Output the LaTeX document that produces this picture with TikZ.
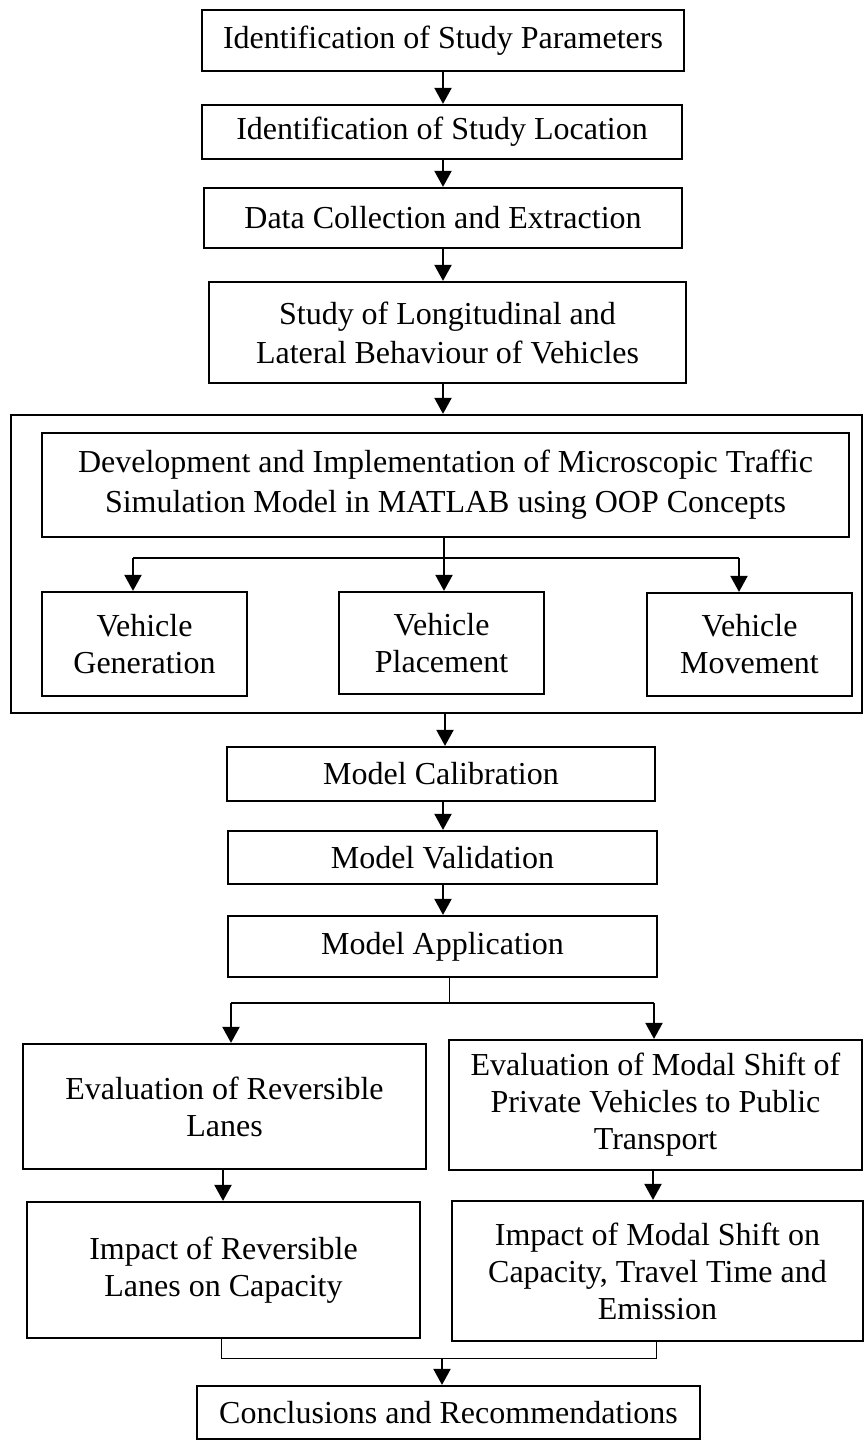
\documentclass[tikz,border=0pt]{standalone}
\usepackage{fontspec}
\setmainfont{Liberation Serif}
\usetikzlibrary{arrows.meta}

\begin{document}
\begin{tikzpicture}[x=1pt,y=-1pt,
  box/.style={draw, line width=2.2pt, inner sep=0pt, align=center,
    font=\fontsize{32}{37}\selectfont},
  arr/.style={line width=2pt, -{Triangle[length=16pt,width=17pt]}},
  link/.style={line width=1.3pt},
  hair/.style={line width=1pt}]

\useasboundingbox (0,0) rectangle (864,1441);

% main chain
\node[box, minimum width=482pt, minimum height=61pt] (b1) at (443,40.5)
  {Identification of Study Parameters};
\node[box, minimum width=480pt, minimum height=54pt] (b2) at (442,132)
  {Identification of Study Location};
\node[box, minimum width=478pt, minimum height=60pt] (b3) at (443,218)
  {Data Collection and Extraction};
\node[box, minimum width=477pt, minimum height=101pt,
  font=\fontsize{32}{39}\selectfont] (b4) at (447.5,332.5)
  {Study of Longitudinal and\\Lateral Behaviour of Vehicles};

% simulation model group
\node[box, minimum width=851pt, minimum height=298pt] (outer) at (436.5,564) {};
\node[box, minimum width=807pt, minimum height=104pt,
  font=\fontsize{32}{40}\selectfont] (inner) at (445.5,485)
  {Development and Implementation of Microscopic Traffic\\Simulation Model in MATLAB using OOP Concepts};
\node[box, minimum width=205pt, minimum height=104pt] (gen) at (144.5,644)
  {Vehicle\\Generation};
\node[box, minimum width=205pt, minimum height=102pt] (plc) at (441.5,643)
  {Vehicle\\Placement};
\node[box, minimum width=205pt, minimum height=103pt] (mov) at (749.5,644.5)
  {Vehicle\\Movement};

% model stages
\node[box, minimum width=428pt, minimum height=54pt] (cal) at (441,774)
  {Model Calibration};
\node[box, minimum width=429pt, minimum height=53pt] (val) at (442.5,857.5)
  {Model Validation};
\node[box, minimum width=429pt, minimum height=61pt] (app) at (442.5,946.5)
  {Model Application};

% applications
\node[box, minimum width=403pt, minimum height=125pt] (evr) at (224.5,1106.5)
  {Evaluation of Reversible\\Lanes};
\node[box, minimum width=413pt, minimum height=130pt] (evm) at (655.5,1105)
  {Evaluation of Modal Shift of\\Private Vehicles to Public\\Transport};
\node[box, minimum width=393pt, minimum height=136pt] (imr) at (223.5,1270)
  {Impact of Reversible\\Lanes on Capacity};
\node[box, minimum width=411pt, minimum height=140pt] (imm) at (657.5,1271)
  {Impact of Modal Shift on\\Capacity, Travel Time and\\Emission};
\node[box, minimum width=503pt, minimum height=53pt] (con) at (448.5,1412.5)
  {Conclusions and Recommendations};

% connector columns and junctions
\coordinate (cMain) at (443,0);
\coordinate (cMid) at (444,0);
\coordinate (cGen) at (133,0);
\coordinate (cMov) at (739,0);
\coordinate (cCal) at (445,0);
\coordinate (brV) at (444,558);
\coordinate (brA) at (449,1003);
\coordinate (cEvr) at (231,0);
\coordinate (cEvm) at (654,0);
\coordinate (cImr) at (223,0);
\coordinate (cImm) at (653,0);
\coordinate (jL) at (221,1358);
\coordinate (jR) at (656,1358);
\coordinate (cCon) at (442,1358);

% straight flow
\draw[arr] (b1.south -| cMain) -- (b2.north -| cMain);
\draw[arr] (b2.south -| cMain) -- (b3.north -| cMain);
\draw[arr] (b3.south -| cMain) -- (b4.north -| cMain);
\draw[arr] (b4.south -| cMain) -- (outer.north -| cMain);

% branch to the three vehicle modules
\draw[arr] (inner.south -| cMid) -- (plc.north -| cMid);
\draw[link] (cGen |- brV) -- (cMov |- brV);
\draw[arr] (cGen |- brV) -- (gen.north -| cGen);
\draw[arr] (cMov |- brV) -- (mov.north -| cMov);

\draw[arr] (outer.south -| cCal) -- (cal.north -| cCal);
\draw[arr] (cal.south -| cMain) -- (val.north -| cMain);
\draw[arr] (val.south -| cMain) -- (app.north -| cMain);

% split into the two applications
\draw[hair] (app.south -| brA) -- (brA);
\draw[link] (cEvr |- brA) -- (cEvm |- brA);
\draw[arr] (cEvr |- brA) -- (evr.north -| cEvr);
\draw[arr] (cEvm |- brA) -- (evm.north -| cEvm);

\draw[arr] (evr.south -| cImr) -- (imr.north -| cImr);
\draw[arr] (evm.south -| cImm) -- (imm.north -| cImm);

% merge into conclusions
\draw[hair] (imr.south -| jL) -- (jL) -- (jR) -- (imm.south -| jR);
\draw[arr] (cCon) -- (con.north -| cCon);

\end{tikzpicture}
\end{document}
